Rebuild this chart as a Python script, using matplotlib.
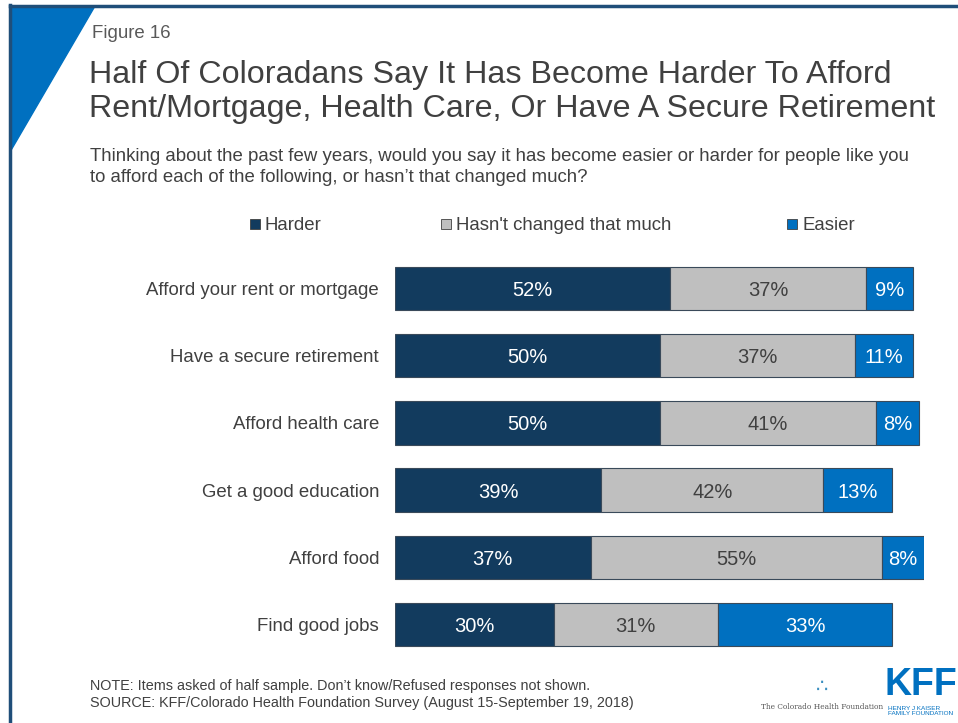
import numpy as np
import matplotlib.pyplot as plt
from matplotlib.patches import Polygon, Rectangle

plt.rcParams['font.family'] = ['Liberation Sans', 'DejaVu Sans']

# data
categories = ["Afford your rent or mortgage", "Have a secure retirement", "Afford health care",
              "Get a good education", "Afford food", "Find good jobs"]
harder = [52, 50, 50, 39, 37, 30]
no_change = [37, 37, 41, 42, 55, 31]
easier = [9, 11, 8, 13, 8, 33]
series_names = ["Harder", "Hasn't changed that much", "Easier"]

c_harder = '#123b5e'
c_same = '#bfbfbf'
c_easier = '#0070c0'
c_text = '#404040'

W, H = 958, 723
fig = plt.figure(figsize=(W / 100, H / 100), dpi=100)

def fx(x):
    return x / W

def fy(y):
    return 1 - y / H

# frame + corner triangle
fig.patches.append(Polygon([(fx(10), fy(6)), (fx(95), fy(6)), (fx(10), fy(152))],
                           closed=True, transform=fig.transFigure, color='#0070c0', zorder=0))
fig.add_artist(plt.Line2D([fx(10), fx(958)], [fy(6), fy(6)], color='#1f4e79', lw=2.5))
fig.add_artist(plt.Line2D([fx(10), fx(10)], [fy(5), fy(723)], color='#1f4e79', lw=2.5))

fig.text(fx(92), fy(33), "Figure 16", fontsize=13.4, color='#595959', va='center')
fig.text(fx(89), fy(92), "Half Of Coloradans Say It Has Become Harder To Afford\n"
         "Rent/Mortgage, Health Care, Or Have A Secure Retirement",
         fontsize=23.2, color=c_text, va='center', linespacing=1.2)
fig.text(fx(90), fy(167), "Thinking about the past few years, would you say it has become easier or harder for people like you\n"
         "to afford each of the following, or hasn\u2019t that changed much?",
         fontsize=13.4, color=c_text, va='center', linespacing=1.35)

# bars
ax = fig.add_axes([fx(395), fy(658), fx(924) - fx(395), (658 - 255) / H])
y = np.arange(len(categories))
left = np.zeros(len(categories))
for vals, col, tcol in [(harder, c_harder, 'white'), (no_change, c_same, c_text), (easier, c_easier, 'white')]:
    vals = np.array(vals)
    ax.barh(y, vals, left=left, height=0.645, color=col, edgecolor='#3a4a5a', linewidth=0.8)
    for yi, l, v in zip(y, left, vals):
        ax.text(l + v / 2, yi, f"{v}%", ha='center', va='center_baseline', color=tcol, fontsize=14.5)
    left += vals

ax.set_xlim(0, 100)
ax.set_ylim(len(categories) - 0.5, -0.5)
ax.set_yticks(y)
ax.set_yticklabels(categories, fontsize=13.4, color=c_text)
ax.tick_params(axis='y', length=0, pad=11.5)
ax.set_xticks([])
for s in ax.spines.values():
    s.set_visible(False)

# legend
for xm, name, col in zip([255, 446, 792], series_names, [c_harder, c_same, c_easier]):
    fig.patches.append(Rectangle((fx(xm - 5), fy(229)), fx(10), 10 / H, transform=fig.transFigure,
                                 facecolor=col, edgecolor='#404040', lw=0.6))
    fig.text(fx(xm + 10), fy(224), name, fontsize=13.4, color=c_text, va='center_baseline')

# footnotes
fig.text(fx(90), fy(686), "NOTE: Items asked of half sample. Don\u2019t know/Refused responses not shown.",
         fontsize=10.4, color=c_text, va='center')
fig.text(fx(90), fy(703), "SOURCE: KFF/Colorado Health Foundation Survey (August 15-September 19, 2018)",
         fontsize=10.4, color=c_text, va='center')

# logos
fig.text(fx(822), fy(707), "The Colorado Health Foundation", fontsize=5.3, color='#555555',
         ha='center', va='center', family='DejaVu Serif')
fig.text(fx(822), fy(686), "\u2234", fontsize=14, color='#3a8fc0', ha='center', va='center', family='DejaVu Sans')
fig.text(fx(921), fy(685), "KFF", fontsize=27, color='#0070c0', ha='center', va='center', weight='bold')
fig.text(fx(888), fy(711), "HENRY J KAISER\nFAMILY FOUNDATION", fontsize=4.6, color='#0070c0',
         ha='left', va='center', linespacing=1.0)

fig.savefig('out.png', dpi=100, facecolor='white')
